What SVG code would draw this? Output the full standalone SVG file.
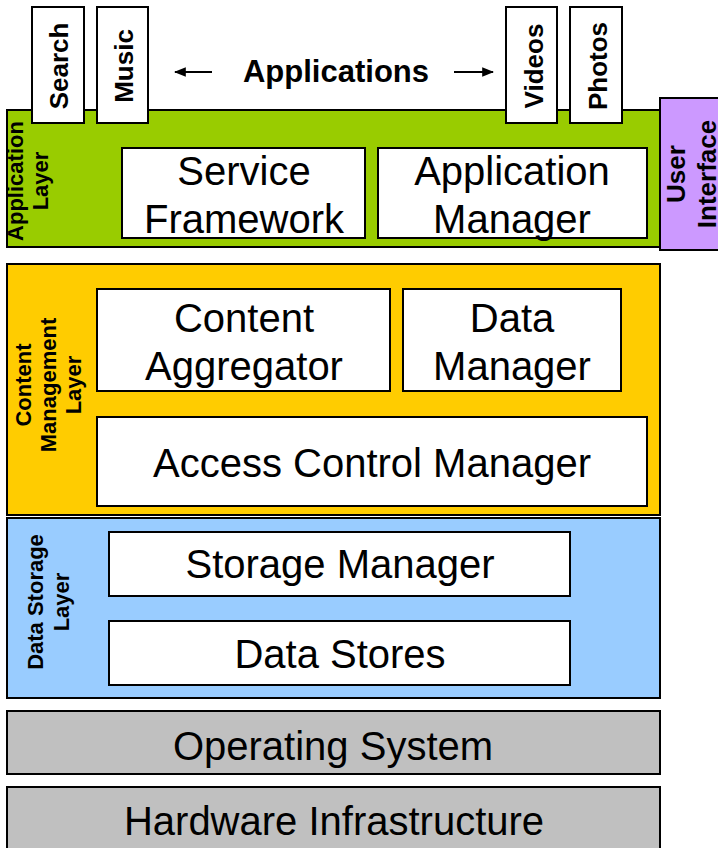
<svg xmlns="http://www.w3.org/2000/svg" width="718" height="848" viewBox="0 0 718 848">
<defs>
<style>
.b{stroke:#000;stroke-width:2}
.w{fill:#fff}
.t{font-family:"Liberation Sans",Arial,sans-serif;font-size:40px;text-anchor:middle;fill:#000}
.v{font-family:"Liberation Sans",Arial,sans-serif;font-size:26px;font-weight:bold;text-anchor:middle;fill:#000}
.l{font-family:"Liberation Sans",Arial,sans-serif;font-size:22px;font-weight:bold;text-anchor:middle;fill:#000}
</style>
<marker id="ah" viewBox="0 0 10 10" refX="9" refY="5" markerWidth="12" markerHeight="12" markerUnits="userSpaceOnUse" orient="auto">
<path d="M0,1 L10,5 L0,9 z" fill="#000"/>
</marker>
</defs>
<rect width="718" height="848" fill="#fff"/>
<g id="app-layer">
<rect class="b" x="7" y="110" width="653" height="137" fill="#99cc00"/>
<text class="l" transform="translate(23,181) rotate(-90)">Application</text>
<text class="l" transform="translate(48,181) rotate(-90)">Layer</text>
</g>
<g id="search"><rect class="b w" x="32" y="7" width="52" height="116"/><text class="v" transform="translate(68,66) rotate(-90)">Search</text></g>
<g id="music"><rect class="b w" x="97" y="7" width="51" height="116"/><text class="v" transform="translate(133,66) rotate(-90)">Music</text></g>
<g id="videos"><rect class="b w" x="506" y="7" width="51" height="116"/><text class="v" transform="translate(543,66) rotate(-90)">Videos</text></g>
<g id="photos"><rect class="b w" x="570" y="7" width="52" height="116"/><text class="v" transform="translate(607,66) rotate(-90)">Photos</text></g>
<g id="applications-title"><text class="v" style="font-size:31px" x="336" y="82">Applications</text></g>
<g id="connectors">
<line class="b" x1="212" y1="72" x2="175" y2="72" marker-end="url(#ah)"/>
<line class="b" x1="454" y1="72" x2="493" y2="72" marker-end="url(#ah)"/>
</g>
<g id="service-framework"><rect class="b w" x="122" y="148" width="243" height="90"/><text class="t" x="244" y="185">Service</text><text class="t" x="244" y="233">Framework</text></g>
<g id="application-manager"><rect class="b w" x="378" y="148" width="269" height="90"/><text class="t" x="512" y="185">Application</text><text class="t" x="512" y="233">Manager</text></g>
<g id="user-interface">
<rect class="b" x="660" y="98" width="66" height="152" fill="#cc99ff"/>
<text class="v" transform="translate(685,174) rotate(-90)">User</text>
<text class="v" transform="translate(716,174) rotate(-90)">Interface</text>
</g>
<g id="content-layer">
<rect class="b" x="7" y="264" width="653" height="251" fill="#ffcc00"/>
<text class="l" transform="translate(31,385) rotate(-90)">Content</text>
<text class="l" transform="translate(56,385) rotate(-90)">Management</text>
<text class="l" transform="translate(81,385) rotate(-90)">Layer</text>
</g>
<g id="content-aggregator"><rect class="b w" x="97" y="289" width="293" height="102"/><text class="t" x="244" y="332">Content</text><text class="t" x="244" y="380">Aggregator</text></g>
<g id="data-manager"><rect class="b w" x="403" y="289" width="218" height="102"/><text class="t" x="512" y="332">Data</text><text class="t" x="512" y="380">Manager</text></g>
<g id="access-control-manager"><rect class="b w" x="97" y="417" width="550" height="89"/><text class="t" x="372" y="477">Access Control Manager</text></g>
<g id="storage-layer">
<rect class="b" x="7" y="518" width="653" height="180" fill="#99ccff"/>
<text class="l" transform="translate(43,602) rotate(-90)">Data Storage</text>
<text class="l" transform="translate(69,602) rotate(-90)">Layer</text>
</g>
<g id="storage-manager"><rect class="b w" x="109" y="532" width="461" height="64"/><text class="t" x="340" y="578">Storage Manager</text></g>
<g id="data-stores"><rect class="b w" x="109" y="621" width="461" height="64"/><text class="t" x="340" y="668">Data Stores</text></g>
<g id="operating-system"><rect class="b" x="7" y="711" width="653" height="63" fill="#c0c0c0"/><text class="t" x="333" y="760">Operating System</text></g>
<g id="hardware"><rect class="b" x="7" y="787" width="653" height="70" fill="#c0c0c0"/><text class="t" x="334" y="835">Hardware Infrastructure</text></g>
</svg>
